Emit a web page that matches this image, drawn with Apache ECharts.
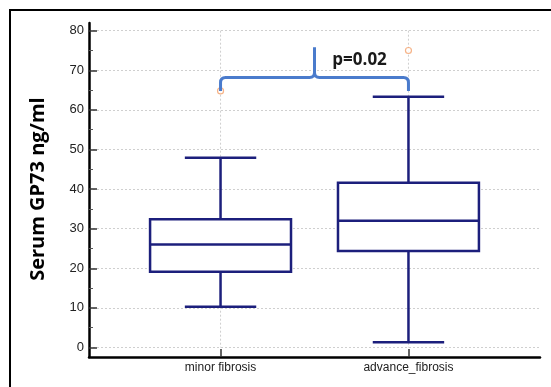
<!DOCTYPE html>
<html>
<head>
<meta charset="utf-8">
<script src="https://cdn.jsdelivr.net/npm/echarts@6/dist/echarts.min.js"></script>
<style>
    html, body { margin: 0; padding: 0; background: #fff; }
    #main { width: 551px; height: 387px; }
</style>
</head>
<body>
<div id="main"></div>
<script>
// categories on x (placed at 1 and 2)
const categories = ['minor fibrosis', 'advance_fibrosis'];
const catPos = [1, 2];
// [min, Q1, median, Q3, max]
const minorBox = [10.3, 19.1, 26.0, 32.4, 47.9];
const advanceBox = [1.3, 24.4, 32.0, 41.6, 63.3];
const outlierValues = [64.8, 75.0];
// bracket: [foot, level, peak], label position
const bracketY = [64.8, 68.2, 75.8];
const pLabel = 'p=0.02';
const pLabelPos = [1.74, 72.6];

const navy = '#1c1f7c';
const boxHalf = 0.375;
const capHalf = 0.19;

const boxData = [
    [catPos[0]].concat(minorBox),
    [catPos[1]].concat(advanceBox)
];
const outlierData = catPos.map((x, i) => [x, outlierValues[i]]);

function renderBox (params, api) {
    const x = api.value(0);
    const lo = api.coord([x, api.value(1)]);
    const q1 = api.coord([x, api.value(2)]);
    const med = api.coord([x, api.value(3)]);
    const q3 = api.coord([x, api.value(4)]);
    const hi = api.coord([x, api.value(5)]);
    const bw = api.size([boxHalf, 0])[0];
    const cw = api.size([capHalf, 0])[0];
    const st = { stroke: navy, lineWidth: 2.5, fill: null };
    const line = (x1, y1, x2, y2) => ({ type: 'line', shape: { x1, y1, x2, y2 }, style: st });
    return {
        type: 'group',
        children: [
            line(lo[0], q3[1], hi[0], hi[1]),
            line(lo[0], lo[1], lo[0], q1[1]),
            line(hi[0] - cw, hi[1], hi[0] + cw, hi[1]),
            line(lo[0] - cw, lo[1], lo[0] + cw, lo[1]),
            {
                type: 'rect',
                shape: { x: q1[0] - bw, y: q3[1], width: bw * 2, height: q1[1] - q3[1] },
                style: { stroke: navy, lineWidth: 2.5, fill: '#fff' }
            },
            line(med[0] - bw, med[1], med[0] + bw, med[1])
        ]
    };
}

function renderVGrid (params, api) {
    const x = api.value(0);
    const top = api.coord([x, 80]);
    const bot = api.coord([x, 0]);
    return {
        type: 'line',
        shape: { x1: top[0], y1: top[1], x2: bot[0], y2: bot[1] },
        style: { stroke: '#cfcfcf', lineWidth: 1, lineDash: [2, 2] }
    };
}

function renderBracket (params, api) {
    const xl = api.coord([api.value(0), 0])[0];
    const xr = api.coord([api.value(1), 0])[0];
    const xc = (xl + xr) / 2;
    const yb = api.coord([0, api.value(2)])[1];
    const yl = api.coord([0, api.value(3)])[1];
    const yp = api.coord([0, api.value(4)])[1];
    const r = 5;
    const d = `M ${xl} ${yb} L ${xl} ${yl + r} Q ${xl} ${yl} ${xl + r} ${yl} ` +
        `L ${xc - r} ${yl} Q ${xc} ${yl} ${xc} ${yl - r} L ${xc} ${yp} ` +
        `M ${xc} ${yl - r} Q ${xc} ${yl} ${xc + r} ${yl} ` +
        `L ${xr - r} ${yl} Q ${xr} ${yl} ${xr} ${yl + r} L ${xr} ${yb}`;
    const tp = api.coord([pLabelPos[0], pLabelPos[1]]);
    return {
        type: 'group',
        children: [
            { type: 'path', shape: { pathData: d }, style: { stroke: '#4a7bcc', lineWidth: 3, fill: null } },
            {
                type: 'text',
                style: {
                    text: pLabel, x: tp[0], y: tp[1], align: 'center', verticalAlign: 'middle',
                    font: 'bold 17px "Open Sans"', fill: '#1a1a1a'
                }
            }
        ]
    };
}

const chart = echarts.init(document.getElementById('main'));
chart.setOption({
    animation: false,
    backgroundColor: '#fff',
    graphic: [{
        type: 'rect',
        shape: { x: 10, y: 10, width: 600, height: 400 },
        style: { fill: null, stroke: '#000', lineWidth: 2 },
        silent: true
    }],
    grid: [
        { left: 89, right: 11, top: 23, bottom: 30 },
        { left: 89, right: 11, top: 30.7, bottom: 39.5 }
    ],
    xAxis: [{
        gridIndex: 0,
        type: 'value',
        min: 0.3,
        max: 2.7,
        axisLine: { lineStyle: { color: '#000', width: 2.5 } },
        axisTick: { inside: true, length: 8, customValues: catPos, lineStyle: { color: '#333', width: 1.5 } },
        axisLabel: {
            customValues: catPos,
            formatter: (v) => categories[Math.round(v) - 1],
            color: '#222',
            fontFamily: 'Liberation Sans',
            fontSize: 12,
            margin: 5
        },
        splitLine: { show: false }
    }, {
        gridIndex: 1,
        type: 'value',
        min: 0.3,
        max: 2.7,
        show: false
    }],
    yAxis: [{
        gridIndex: 0,
        type: 'value',
        min: 0,
        max: 1,
        axisLine: { show: true, lineStyle: { color: '#000', width: 2.5 } },
        axisTick: { show: false },
        axisLabel: { show: false },
        splitLine: { show: false }
    }, {
        gridIndex: 1,
        type: 'value',
        min: 0,
        max: 80,
        interval: 10,
        name: 'Serum GP73 ng/ml',
        nameLocation: 'middle',
        nameGap: 41,
        nameTextStyle: { fontFamily: 'Open Sans', fontWeight: 'bold', fontSize: 20, color: '#000' },
        axisLine: { show: false },
        axisTick: { show: true, inside: true, length: 8, lineStyle: { color: '#333', width: 1.5 } },
        minorTick: { show: true, splitNumber: 2, length: 4, lineStyle: { color: '#555', width: 1 } },
        axisLabel: { color: '#222', fontFamily: 'Liberation Sans', fontSize: 13, margin: 5 },
        splitLine: { show: true, lineStyle: { color: '#cfcfcf', type: [2, 2], width: 1 } }
    }],
    series: [{
        type: 'custom',
        xAxisIndex: 1,
        yAxisIndex: 1,
        renderItem: renderVGrid,
        data: catPos.map(x => [x]),
        z: 1
    }, {
        type: 'custom',
        xAxisIndex: 1,
        yAxisIndex: 1,
        renderItem: renderBox,
        data: boxData,
        z: 2
    }, {
        type: 'scatter',
        xAxisIndex: 1,
        yAxisIndex: 1,
        data: outlierData,
        symbol: 'circle',
        symbolSize: 6,
        itemStyle: { color: '#fff', borderColor: '#f4a06a', borderWidth: 1.2 },
        z: 3
    }, {
        type: 'custom',
        xAxisIndex: 1,
        yAxisIndex: 1,
        renderItem: renderBracket,
        data: [[catPos[0], catPos[1]].concat(bracketY)],
        z: 4
    }]
});
</script>
</body>
</html>
